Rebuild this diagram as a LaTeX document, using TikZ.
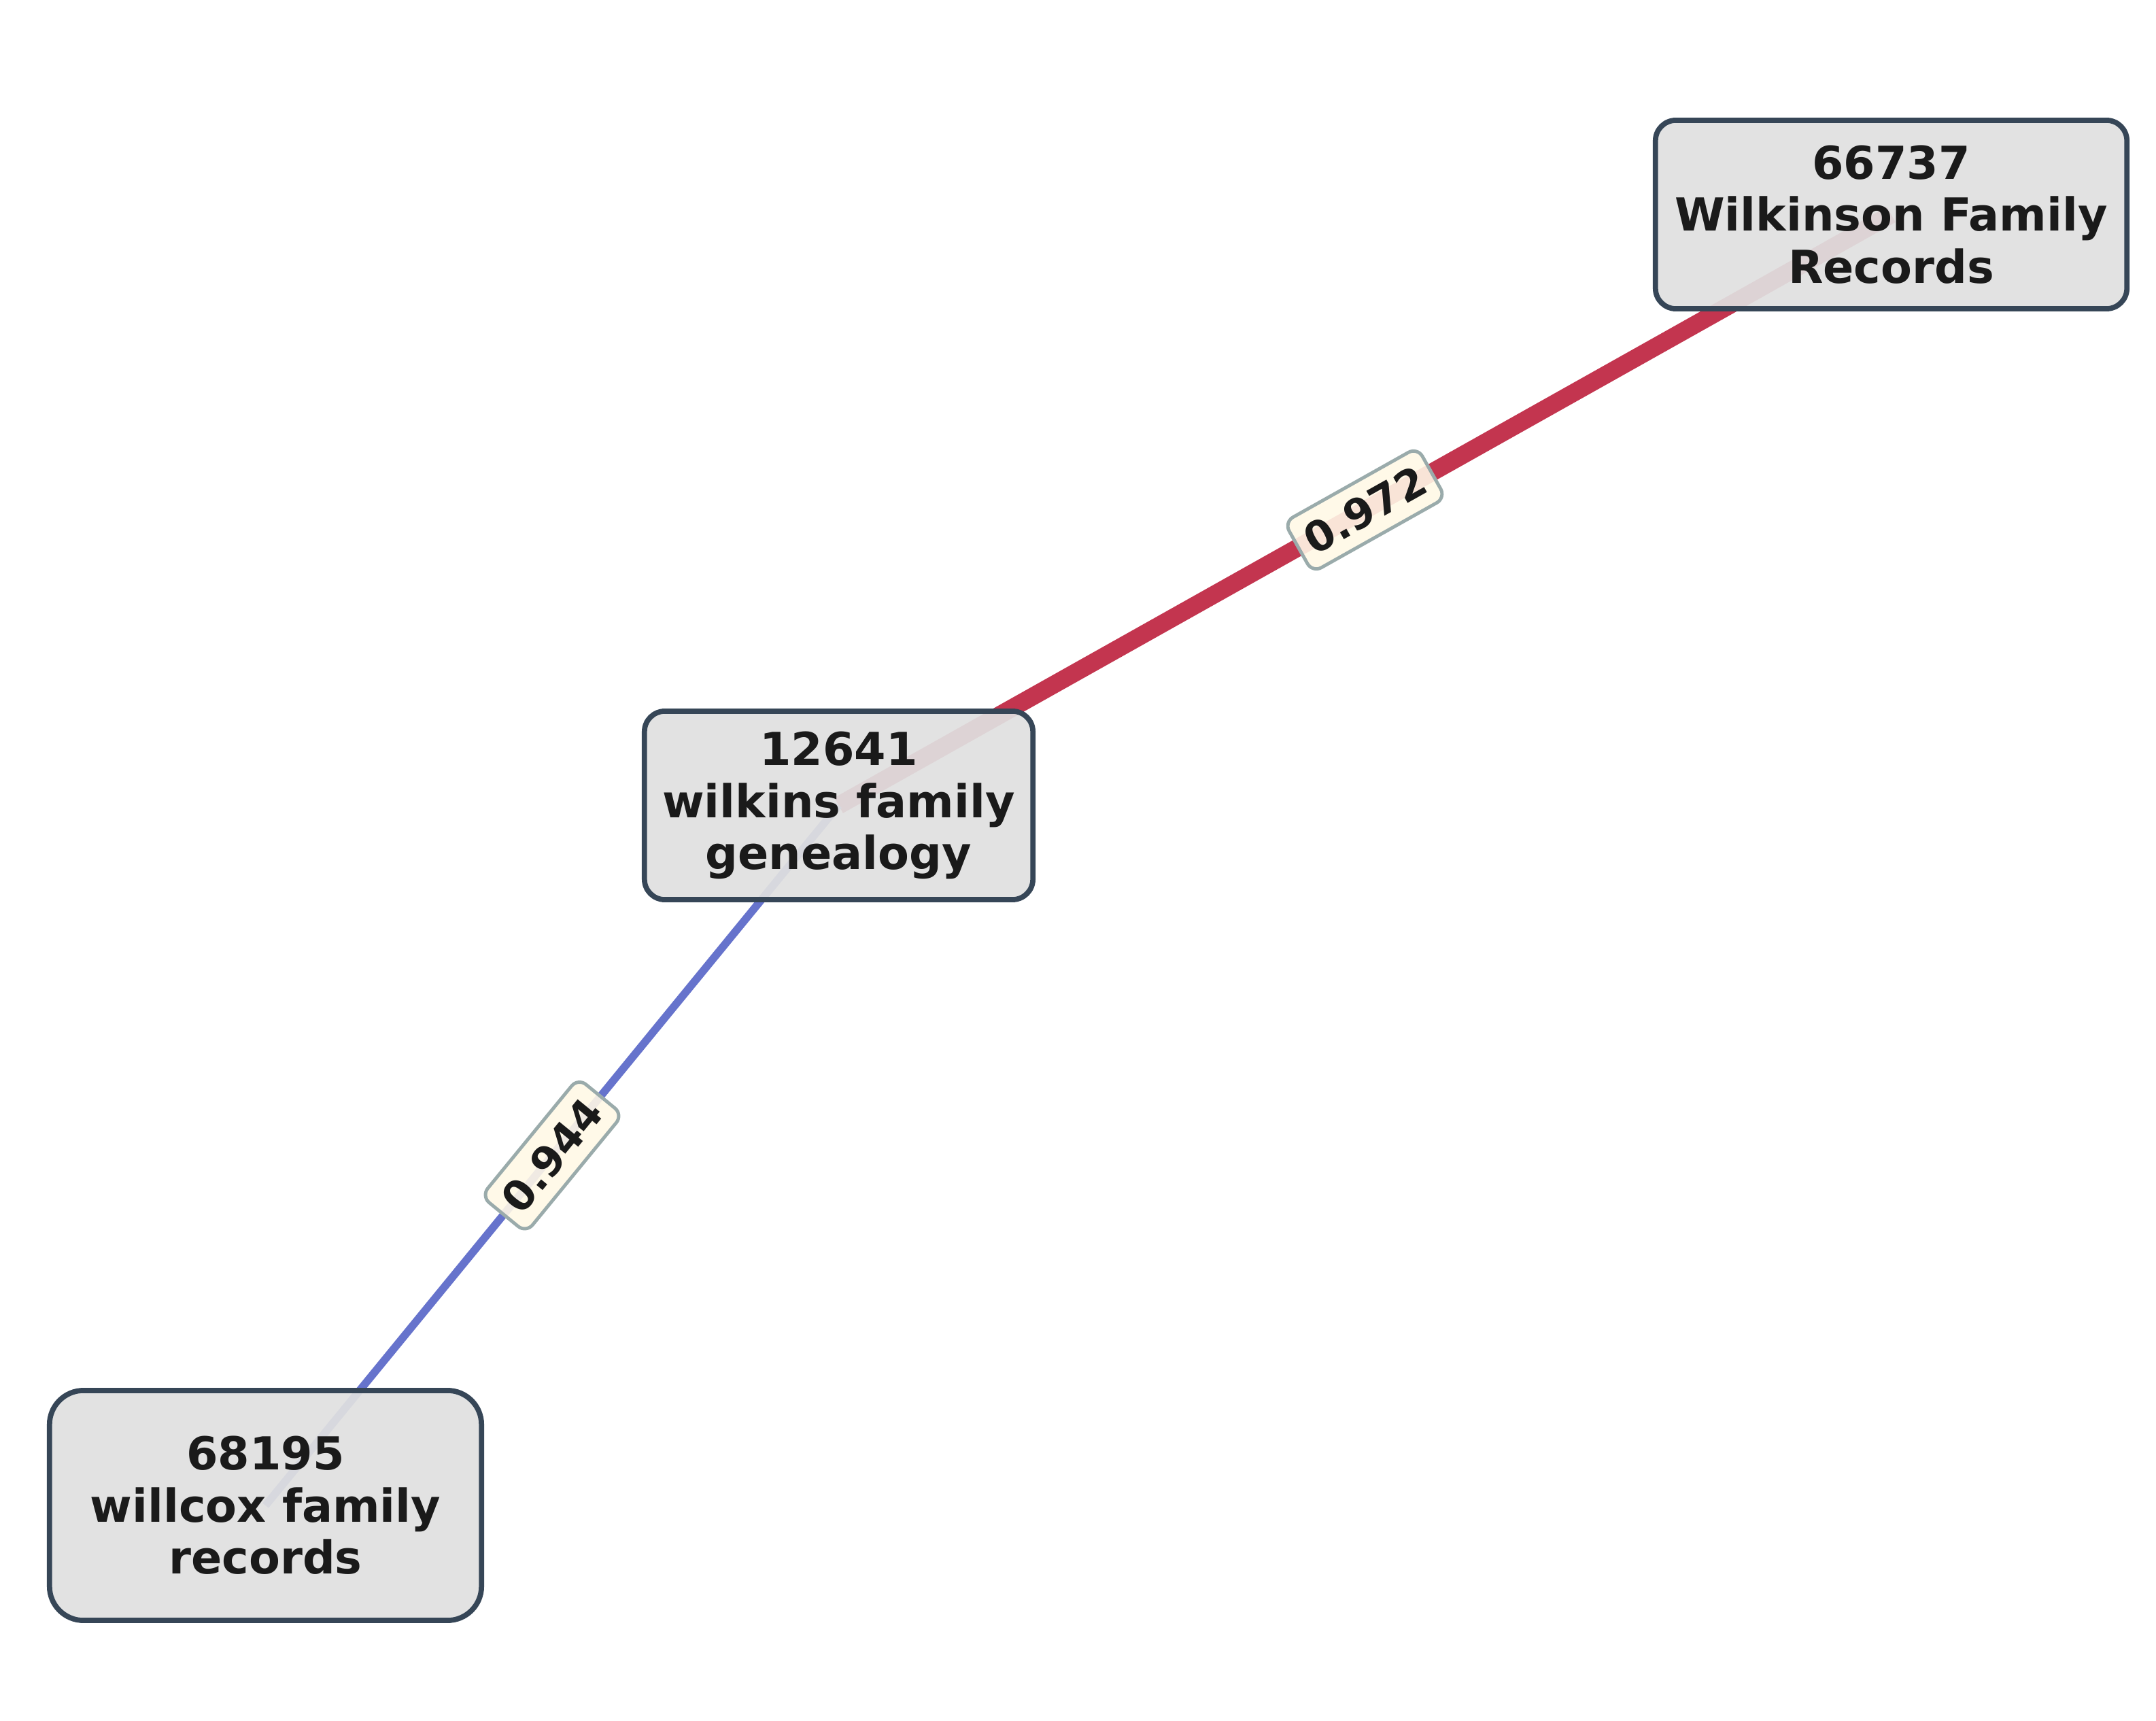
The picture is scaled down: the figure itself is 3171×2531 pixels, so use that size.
\documentclass[tikz,border=0pt]{standalone}
\usepackage{fontspec}
\setmainfont{DejaVu Sans}
\usetikzlibrary{backgrounds}
\definecolor{nodefill}{HTML}{E0E0E0}
\definecolor{nodeborder}{HTML}{364657}
\definecolor{txt}{HTML}{1A1A1A}
\definecolor{edgered}{HTML}{C3354F}
\definecolor{edgeblue}{HTML}{6673CC}
\definecolor{lblfill}{HTML}{FFF8E6}
\definecolor{lblborder}{HTML}{9AABAB}
\tikzset{
  graphnode/.style={draw=nodeborder, line width=2.2pt, fill=nodefill, fill opacity=0.93, text opacity=1,
    text=txt, align=center, inner sep=0pt, rounded corners=0.3cm,
    font=\fontsize{19}{21.8}\selectfont\bfseries},
  rededge/.style={draw=edgered, line width=0.26cm},
  blueedge/.style={draw=edgeblue, line width=0.115cm},
  lbl/.style={draw=lblborder, line width=1.4pt, fill=lblfill, fill opacity=0.9, text opacity=1,
    text=txt, rounded corners=0.15cm, inner xsep=0.15cm, inner ysep=0.2cm,
    text height=0.45cm, text depth=0pt,
    font=\fontsize{17.5}{20}\selectfont\bfseries}
}
\begin{document}
\begin{tikzpicture}[x=0.01cm,y=-0.01cm]
\useasboundingbox (0,0) rectangle (3171,2531);
\node[graphnode, minimum width=6.93cm, minimum height=2.77cm] (n66737) at (2781.5,315.5) {66737\\Wilkinson Family\\Records};
\node[graphnode, minimum width=5.71cm, minimum height=2.77cm] (n12641) at (1233.5,1184.5) {12641\\wilkins family\\genealogy};
\node[graphnode, minimum width=6.35cm, minimum height=3.38cm, rounded corners=0.5cm] (n68195) at (390.5,2214) {68195\\willcox family\\records};
\begin{scope}[on background layer]
\draw[rededge] (n12641.center) -- node[lbl, sloped] (l972) {0.972} (n66737.center);
\draw[blueedge] (n68195.center) -- node[lbl, sloped] (l944) {0.944} (n12641.center);
\end{scope}
\end{tikzpicture}
\end{document}
